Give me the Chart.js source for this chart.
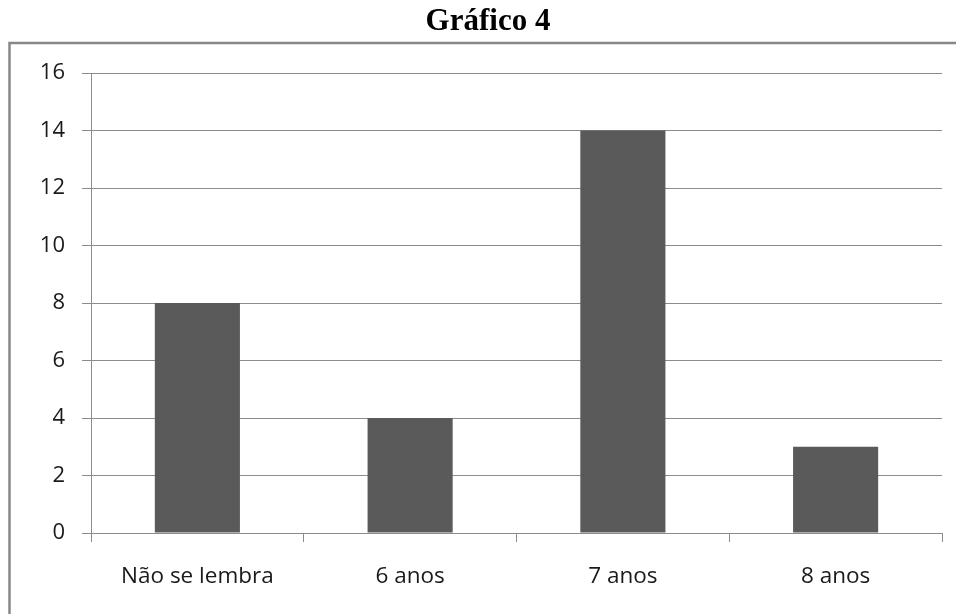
<!DOCTYPE html>
<html>
<head>
<meta charset="utf-8">
<style>
  html, body { margin: 0; padding: 0; background: #ffffff; }
  #wrap { position: relative; width: 956px; height: 614px; }
</style>
<script src="https://cdn.jsdelivr.net/npm/chart.js@4.4.1/dist/chart.umd.min.js"></script>
</head>
<body>
<div id="wrap"><canvas id="chart" width="956" height="614"></canvas></div>
<script>
// Age at which the respondents started school
const categories = ['Não se lembra', '6 anos', '7 anos', '8 anos'];
const counts = [8, 4, 14, 3];
const yTicks = [0, 2, 4, 6, 8, 10, 12, 14, 16];
const chartTitle = 'Gráfico 4';

// Grey frame around the plot (open toward the bottom-right page edge) and the heading above it
const framePlugin = {
  id: 'frame',
  beforeDraw(chart) {
    const ctx = chart.ctx;
    ctx.save();
    ctx.strokeStyle = '#888888';
    ctx.lineWidth = 2.5;
    ctx.strokeRect(9.5, 43, 1000, 700);
    ctx.fillStyle = '#000000';
    ctx.font = 'bold 31px "Liberation Serif"';
    ctx.textAlign = 'center';
    ctx.textBaseline = 'alphabetic';
    ctx.fillText(chartTitle, 488, 30);
    ctx.restore();
  }
};

new Chart(document.getElementById('chart'), {
  type: 'bar',
  data: {
    labels: categories,
    datasets: [{
      data: counts,
      backgroundColor: '#5a5a5a',
      borderWidth: 0,
      categoryPercentage: 1.0,
      barPercentage: 0.4
    }]
  },
  plugins: [framePlugin],
  options: {
    responsive: false,
    animation: false,
    devicePixelRatio: 1,
    layout: { padding: { left: 0, right: 14, top: 73, bottom: 0 } },
    plugins: {
      legend: { display: false },
      tooltip: { enabled: false },
      title: { display: false }
    },
    scales: {
      x: {
        afterFit(scale) { scale.height = 81; },
        grid: {
          display: true,
          drawOnChartArea: false,
          drawTicks: true,
          tickLength: 9,
          color: '#8c8c8c',
          offset: true
        },
        border: { display: true, color: '#8c8c8c', width: 1 },
        ticks: {
          color: '#1a1a1a',
          padding: 21,
          font: { family: 'Open Sans', size: 22.5 }
        }
      },
      y: {
        min: 0,
        max: 16,
        afterFit(scale) { scale.width = 91; },
        afterBuildTicks(scale) { scale.ticks = yTicks.map(v => ({ value: v })); },
        grid: {
          color: '#8c8c8c',
          tickLength: 9,
          lineWidth: 1
        },
        border: { display: true, color: '#8c8c8c', width: 1 },
        ticks: {
          color: '#1a1a1a',
          padding: 17,
          font: { family: 'Open Sans', size: 22 }
        }
      }
    }
  }
});
</script>
</body>
</html>
